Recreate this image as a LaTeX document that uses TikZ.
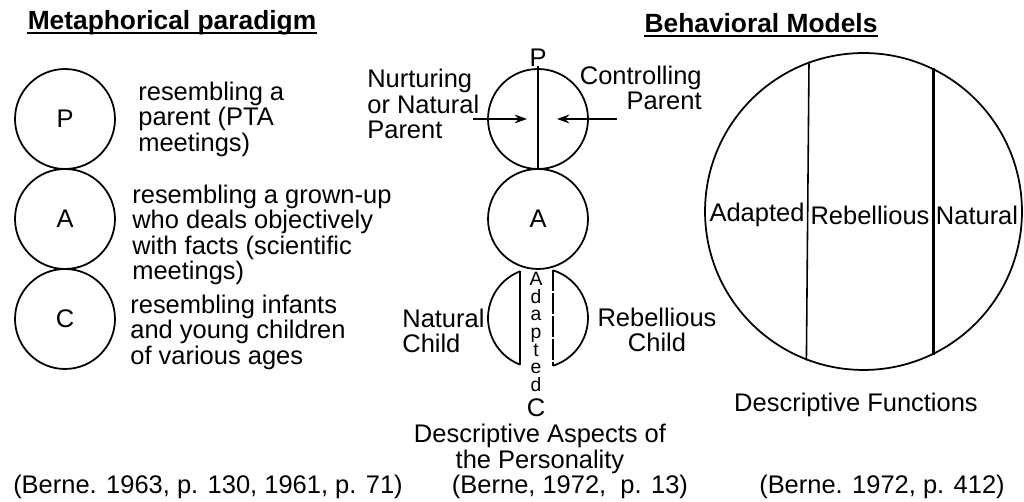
\documentclass[tikz,border=0pt]{standalone}
\usepackage{fontspec}
\setmainfont{Liberation Sans}
\usetikzlibrary{positioning, calc, arrows.meta}
\definecolor{Ink}{HTML}{000000}
\newcommand{\egofont}{\fontsize{14.5}{14.5}\selectfont}
\tikzset{
    ego/.style={circle, draw=Ink, line width=1pt, minimum size=2cm, inner sep=0pt, font=\egofont},
    note/.style={inner sep=0pt, text=Ink, font=\egofont, align=left},
    heading/.style={inner sep=0pt, text=Ink, font=\bfseries\fontsize{15}{15}\selectfont},
    split/.style={line width=1.6pt, color=Ink},
    arrow/.style={-{Stealth[length=7pt, width=5pt]}, line width=0.8pt, color=Ink},
}

\begin{document}
\begin{tikzpicture}[x=0.02cm, y=0.02cm]
    % sheet, 1024 x 502
    \fill[white] (0,0) rectangle (1024,502);
    \useasboundingbox (0,0) rectangle (1024,502);

    % --- COLUMN 1: Metaphorical paradigm ---
    \node[heading] (mtitle) at (172,479) {Metaphorical paradigm};
    \draw[Ink, line width=1.2pt] ([yshift=-2pt]mtitle.base west) -- ([yshift=-2pt]mtitle.base east);

    \node[ego] (lp) at (65,383) {P};
    \node[ego] (la) at (65,283) {A};
    \node[ego] (lc) at (65,183) {C};

    \node[note, anchor=west] (lptext) at (138,383) {resembling a\\parent (PTA\\meetings)};
    \node[note, anchor=west] (latext) at (132,267) {resembling a grown-up\\who deals objectively\\with facts (scientific\\meetings)};
    \node[note, anchor=west] (lctext) at (130,170) {resembling infants\\and young children\\of various ages};

    % --- COLUMN 2: Descriptive aspects ---
    \node[ego] (mp) at (538,383) {};
    \node[ego] (ma) at (538,283) {A};
    \coordinate (mc) at (538,184);

    % parent: split line and arrows
    \node[inner sep=0pt, anchor=base, font=\egofont] (ptop) at ([yshift=1pt]mp.north) {P};
    \draw[split] (ptop.base) -- (mp.south);
    \node[note, anchor=west] (nurt) at (367,398) {Nurturing\\or Natural\\Parent};
    \node[note, anchor=east, align=right] (ctrl) at (702,414) {Controlling\\Parent};
    \coordinate (nfrom) at (473,383);
    \coordinate (cfrom) at (617,383);
    \draw[arrow] (nfrom) -- ($(mp.center)+(-11,0)$);
    \draw[arrow] (cfrom) -- ($(mp.center)+(19,0)$);

    % child: two caps round the adapted part
    \draw[Ink, line width=1pt] ($(mc)+(111:1cm)$) arc[start angle=111, end angle=249, radius=1cm];
    \draw[split] ($(mc)+(111:1cm)$) -- ($(mc)+(249:1cm)$);
    \draw[Ink, line width=1pt] ($(mc)+(72.5:1cm)$) arc[start angle=72.5, end angle=-72.5, radius=1cm];
    \draw[Ink, line width=1.2pt, dash pattern=on 12pt off 1pt] ($(mc)+(72.5:1cm)$) -- ($(mc)+(-72.5:1cm)$);
    \node[inner sep=0pt, align=center, font=\fontsize{11}{10}\selectfont] (adapt) at (536,170) {A\\d\\a\\p\\t\\e\\d};
    \node[inner sep=0pt, font=\egofont] (cbot) at (536,94) {C};
    \node[note, anchor=west] (natc) at (402,171) {Natural\\Child};
    \node[note, align=center] (rebc) at (657,172) {Rebellious\\Child};

    \node[inner sep=0pt, align=center, font=\fontsize{14.5}{12.5}\selectfont] (aspects) at (540,53) {Descriptive Aspects of\\the Personality};

    % --- COLUMN 3: Behavioral models ---
    \node[heading] (btitle) at (761,479) {Behavioral Models};
    \draw[Ink, line width=1.2pt] ([yshift=-2pt]btitle.base west) -- ([yshift=-2pt]btitle.base east);

    \node[circle, draw=Ink, line width=1pt, minimum size=6.34cm, inner sep=0pt] (bf) at (863.5,290.5) {};
    \draw[Ink, line width=0.9pt] (bf.110.5) -- (bf.249.5);
    \draw[split] (bf.64) -- (bf.296);
    \node[note] (badapt) at (757,287) {Adapted};
    \node[note] (brebel) at (870,287) {Rebellious};
    \node[note] (bnat) at (977,287) {Natural};

    \node[note] (functions) at (856,97) {Descriptive Functions};

    % --- sources ---
    \node[note] (src1) at (208,15) {(Berne. 1963, p. 130, 1961, p. 71)};
    \node[note] (src2) at (570,15) {(Berne, 1972,\ \ p. 13)};
    \node[note] (src3) at (882,15) {(Berne. 1972, p. 412)};

\end{tikzpicture}
\end{document}
